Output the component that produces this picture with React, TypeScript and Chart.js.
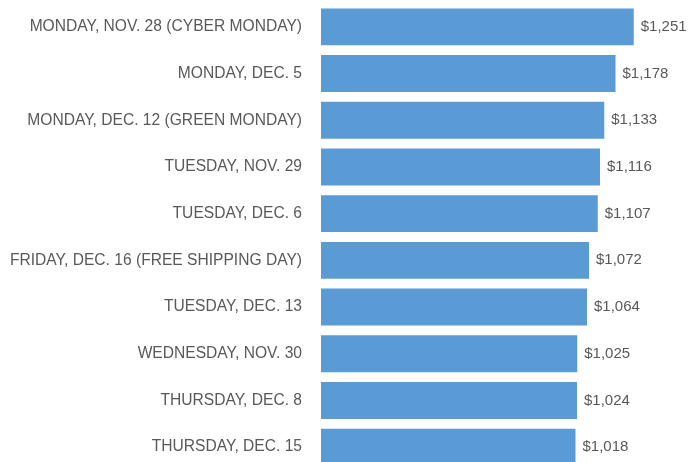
import React, { useEffect, useRef } from "react";
import { Chart, registerables } from "chart.js";

Chart.register(...registerables);

const categories = [
  "MONDAY, NOV. 28 (CYBER MONDAY)",
  "MONDAY, DEC. 5",
  "MONDAY, DEC. 12 (GREEN MONDAY)",
  "TUESDAY, NOV. 29",
  "TUESDAY, DEC. 6",
  "FRIDAY, DEC. 16 (FREE SHIPPING DAY)",
  "TUESDAY, DEC. 13",
  "WEDNESDAY, NOV. 30",
  "THURSDAY, DEC. 8",
  "THURSDAY, DEC. 15",
];
const values = [1251, 1178, 1133, 1116, 1107, 1072, 1064, 1025, 1024, 1018];
const valueLabels = ["$1,251", "$1,178", "$1,133", "$1,116", "$1,107", "$1,072", "$1,064", "$1,025", "$1,024", "$1,018"];

const BAR_COLOR = "#5b9bd5";
const TEXT_COLOR = "#595959";
const FONT = "'Liberation Sans', Arial, sans-serif";

const valueLabelPlugin = {
  id: "valueLabels",
  afterDatasetsDraw(chart: any) {
    const ctx = chart.ctx;
    const meta = chart.getDatasetMeta(0);
    ctx.save();
    ctx.font = `15px ${FONT}`;
    ctx.fillStyle = TEXT_COLOR;
    ctx.textAlign = "left";
    ctx.textBaseline = "middle";
    meta.data.forEach((bar: any, i: number) => {
      ctx.fillText(valueLabels[i], bar.x + 7, bar.y);
    });
    ctx.restore();
  },
};

export default function App() {
  const ref = useRef<HTMLCanvasElement | null>(null);
  useEffect(() => {
    if (!ref.current) return;
    const chart = new Chart(ref.current, {
      type: "bar",
      data: {
        labels: categories,
        datasets: [
          {
            data: values,
            backgroundColor: BAR_COLOR,
            borderWidth: 0,
            barPercentage: 0.79,
            categoryPercentage: 1,
          },
        ],
      },
      options: {
        indexAxis: "y",
        animation: false,
        responsive: false,
        maintainAspectRatio: false,
        layout: { padding: { top: 3.5, bottom: 3.5, left: 0, right: 18 } },
        plugins: {
          legend: { display: false },
          tooltip: { enabled: false },
        },
        scales: {
          x: {
            display: false,
            min: 0,
            max: 1400,
          },
          y: {
            afterFit(scale: any) {
              scale.width = 321;
              scale.paddingTop = 0;
              scale.paddingBottom = 0;
            },
            grid: { display: false, drawTicks: false },
            border: { display: false },
            ticks: {
              padding: 19,
              color: TEXT_COLOR,
              font: { family: FONT, size: 15.6 },
            },
          },
        },
      },
      plugins: [valueLabelPlugin],
    });
    return () => chart.destroy();
  }, []);
  return (
    <div style={{ position: "fixed", left: 0, top: 0, width: 689, height: 462, overflow: "hidden", background: "#fff" }}>
      <canvas ref={ref} width={689} height={474} style={{ display: "block", width: 689, height: 474 }} />
    </div>
  );
}
